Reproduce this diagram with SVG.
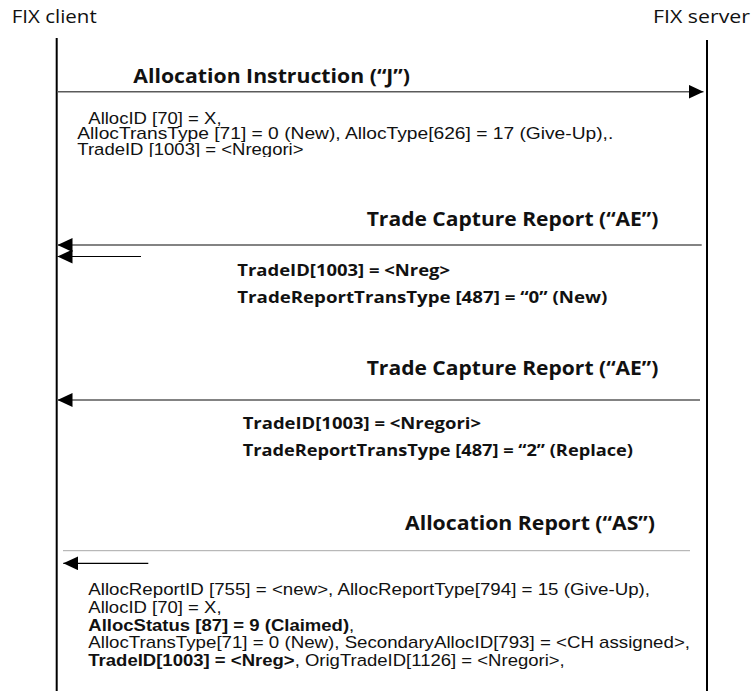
<svg xmlns="http://www.w3.org/2000/svg" width="754" height="691" viewBox="0 0 754 691">
<style>
  .hdr { font-family: "Open Sans", "Noto Sans", sans-serif; font-size: 19px; fill: #111; }
  .ttl { font-family: "Open Sans", "Noto Sans", sans-serif; font-size: 19px; font-weight: 700; fill: #111; }
  .bld { font-family: "Open Sans", "Noto Sans", sans-serif; font-size: 16px; font-weight: 700; fill: #111; }
  .body { font-family: "Liberation Sans", Arial, sans-serif; font-size: 17px; fill: #111; }
  .b { font-weight: 700; }
  .life { stroke: #000; stroke-width: 2; fill: none; }
  .msg { stroke: #5a5a5a; stroke-width: 1.4; fill: none; marker-end: url(#head); }
  .short { stroke: #000; stroke-width: 1.2; fill: none; marker-end: url(#head); }
  .sep { stroke: #a8a8a8; stroke-width: 1; fill: none; }
</style>
<defs>
  <marker id="head" markerUnits="userSpaceOnUse" markerWidth="15" markerHeight="14" refX="15" refY="7" orient="auto">
    <path d="M0,0 L15,7 L0,14 Z" fill="#000"/>
  </marker>
  <clipPath id="clip1"><rect x="0" y="0" width="754" height="157"/></clipPath>
</defs>
<rect width="754" height="691" fill="#fff"/>

<g id="fix-client">
  <text class="hdr" x="11.7" y="23.3" textLength="85" lengthAdjust="spacingAndGlyphs">FIX client</text>
  <line class="life" x1="56.7" y1="38" x2="56.7" y2="691"/>
</g>
<g id="fix-server">
  <text class="hdr" x="653" y="23.3" textLength="97" lengthAdjust="spacingAndGlyphs">FIX server</text>
  <line class="life" x1="707" y1="40" x2="707" y2="691"/>
</g>

<g id="connectors">
  <path class="msg" d="M57,91.7 H703.5"/>
  <path class="msg" d="M701.7,245 H57.5"/>
  <path class="short" d="M141,256.5 H57.5"/>
  <path class="msg" d="M700,400 H57.5"/>
  <path class="sep" d="M63,550.7 H690"/>
  <path class="short" d="M148.3,563.3 H63.3"/>
</g>

<g id="msg-allocation-instruction">
  <text class="ttl" x="133.3" y="83.3" textLength="276.7" lengthAdjust="spacingAndGlyphs">Allocation Instruction (“J”)</text>
  <g clip-path="url(#clip1)">
    <text class="body" transform="translate(88.3,123.5) scale(1.09,1)">AllocID [70] = X,</text>
    <text class="body" x="77.3" y="138.5" textLength="536" lengthAdjust="spacingAndGlyphs">AllocTransType [71] = 0 (New), AllocType[626] = 17 (Give-Up),.</text>
    <text class="body" transform="translate(77.3,154.5) scale(1.09,1)">TradeID [1003] = &lt;Nregori&gt;</text>
  </g>
</g>

<g id="msg-trade-capture-report-1">
  <text class="ttl" x="366.7" y="226" textLength="291.6" lengthAdjust="spacingAndGlyphs">Trade Capture Report (“AE”)</text>
  <text class="bld" x="237.3" y="276" textLength="212.7" lengthAdjust="spacingAndGlyphs">TradeID[1003] = &lt;Nreg&gt;</text>
  <text class="bld" x="237.3" y="303" textLength="370" lengthAdjust="spacingAndGlyphs">TradeReportTransType [487] = “0” (New)</text>
</g>

<g id="msg-trade-capture-report-2">
  <text class="ttl" x="366.7" y="375" textLength="291.6" lengthAdjust="spacingAndGlyphs">Trade Capture Report (“AE”)</text>
  <text class="bld" x="242.7" y="429" textLength="238.3" lengthAdjust="spacingAndGlyphs">TradeID[1003] = &lt;Nregori&gt;</text>
  <text class="bld" x="242.7" y="456" textLength="390.3" lengthAdjust="spacingAndGlyphs">TradeReportTransType [487] = “2” (Replace)</text>
</g>

<g id="msg-allocation-report">
  <text class="ttl" x="405" y="530" textLength="250" lengthAdjust="spacingAndGlyphs">Allocation Report (“AS”)</text>
  <text class="body" x="88.3" y="595" textLength="561.7" lengthAdjust="spacingAndGlyphs">AllocReportID [755] = &lt;new&gt;, AllocReportType[794] = 15 (Give-Up),</text>
  <text class="body" transform="translate(88.3,612.7) scale(1.09,1)">AllocID [70] = X,</text>
  <text class="body" transform="translate(88.3,630.5) scale(1.09,1)"><tspan class="b">AllocStatus [87] = 9 (Claimed)</tspan>,</text>
  <text class="body" x="88.3" y="648" textLength="601.7" lengthAdjust="spacingAndGlyphs">AllocTransType[71] = 0 (New), SecondaryAllocID[793] = &lt;CH assigned&gt;,</text>
  <text class="body" transform="translate(88.3,665.5) scale(1.09,1)"><tspan class="b">TradeID[1003] = &lt;Nreg&gt;</tspan>, OrigTradeID[1126] = &lt;Nregori&gt;,</text>
</g>
</svg>
